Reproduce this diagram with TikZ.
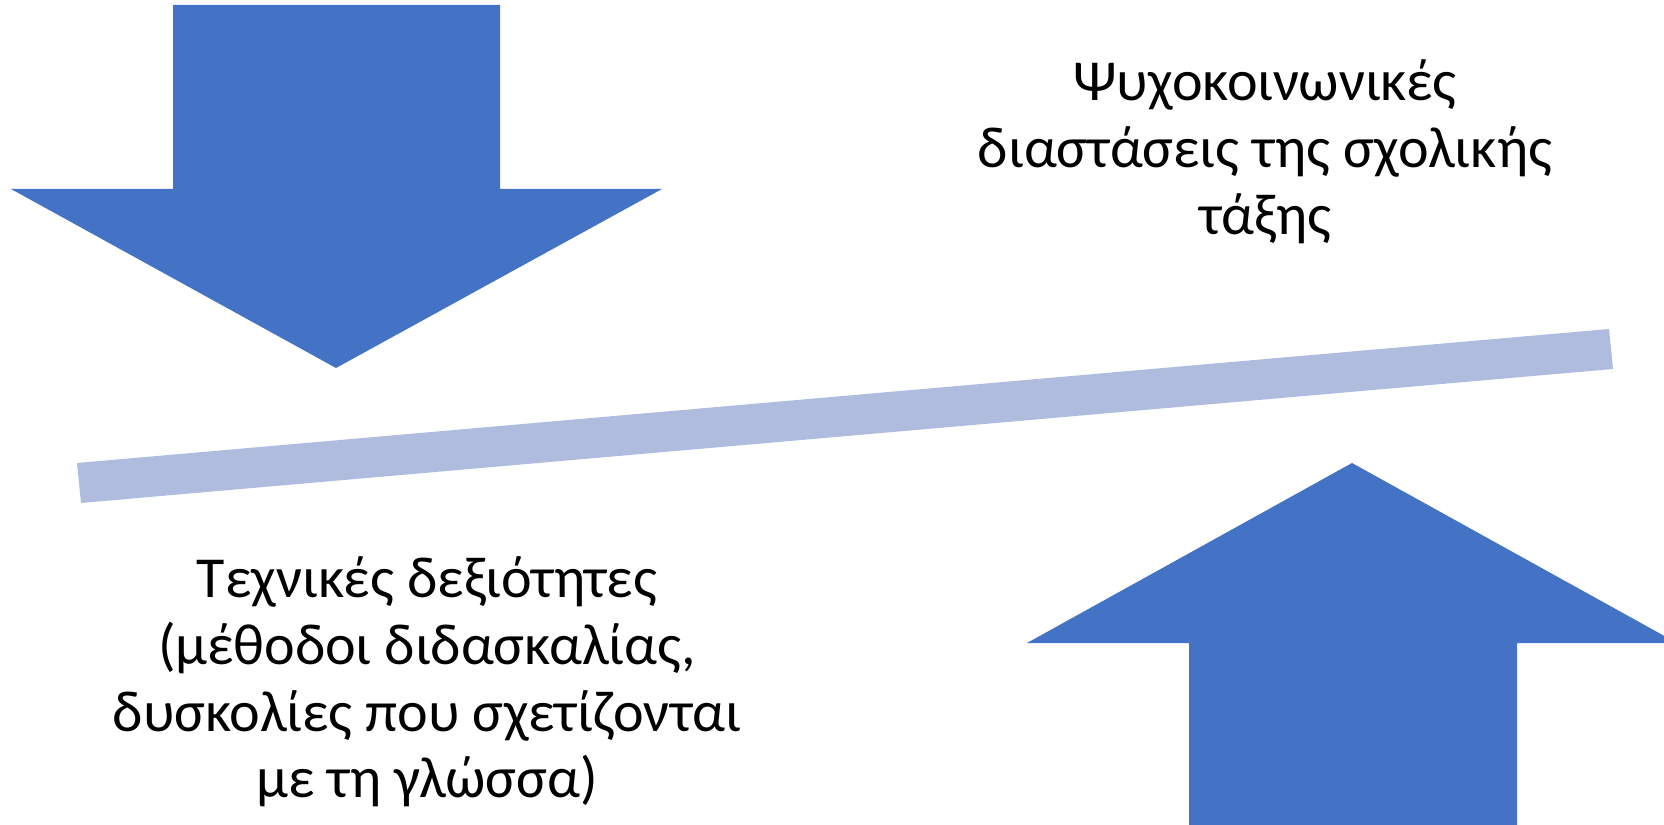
\documentclass[tikz,border=0pt]{standalone}
\usepackage{fontspec}
\setmainfont{Carlito}
\usepackage{xcolor}
\definecolor{PfeilBlau}{HTML}{4472C4}
\definecolor{BalkenBlau}{HTML}{AFBCDE}
\usetikzlibrary{positioning}

\begin{document}
\begin{tikzpicture}[
    x=0.01cm, y=-0.01cm,
    pfeil/.style={fill=PfeilBlau},
    label/.style={align=center, font=\fontsize{16.5}{19}\selectfont, inner sep=0pt},
]
\useasboundingbox (0,0) rectangle (1664,825);
\clip (0,0) rectangle (1664,825);

% Pfeil nach unten
\fill[pfeil] (173,5) -- (500,5) -- (500,189) -- (662,189)
    -- (336,368) -- (11,189) -- (173,189) -- cycle;

% Pfeil nach oben
\fill[pfeil] (1189,830) -- (1189,643) -- (1027,643) -- (1352,463)
    -- (1677,643) -- (1517,643) -- (1517,830) -- cycle;

% Balken
\fill[BalkenBlau] (77,463) -- (1609,329) -- (1613,369) -- (81,503) -- cycle;

% Texte
\node[label] (psycho) at (1265,152) {Ψυχοκοινωνικές\\διαστάσεις της σχολικής\\τάξης};
\node[label] (technik) at (427,682) {Τεχνικές δεξιότητες\\(μέθοδοι διδασκαλίας,\\δυσκολίες που σχετίζονται\\με τη γλώσσα)};

\end{tikzpicture}
\end{document}
